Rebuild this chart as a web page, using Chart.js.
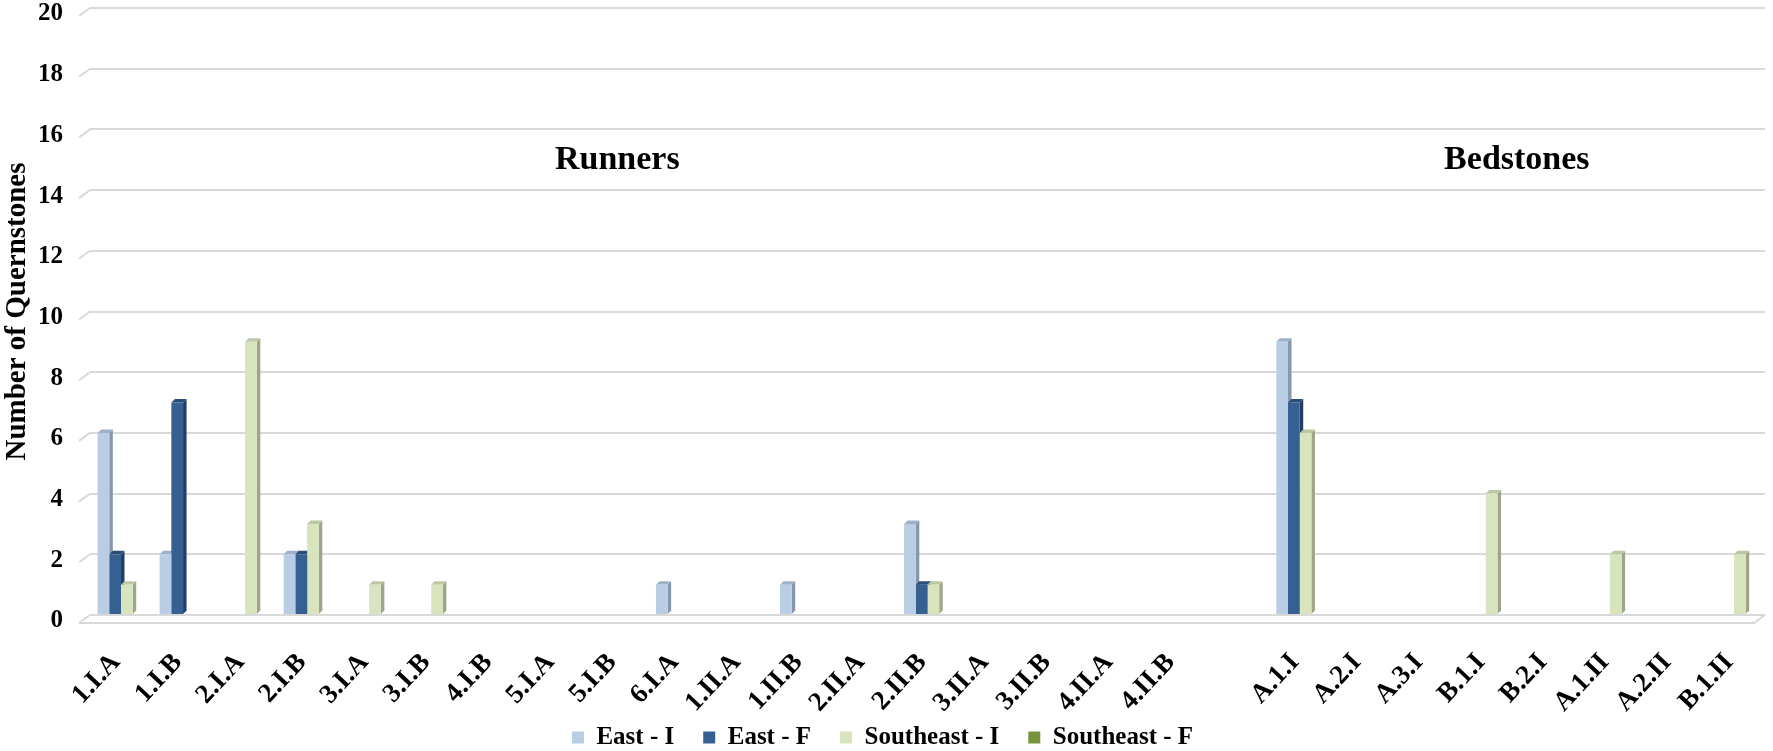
<!DOCTYPE html>
<html>
<head>
<meta charset="utf-8">
<title>Quernstones by type</title>
<script src="https://cdn.jsdelivr.net/npm/chart.js@4.4.1/dist/chart.umd.min.js"></script>
<style>
  html, body { margin: 0; padding: 0; background: #ffffff; }
  #wrap { width: 1773px; height: 751px; position: relative; }
</style>
</head>
<body>
<div id="wrap"><canvas id="chart" width="1773" height="751"></canvas></div>
<script>
// Quernstone types (runners, then a spacer, then bedstones)
const categories = [
  '1.I.A', '1.I.B', '2.I.A', '2.I.B', '3.I.A', '3.I.B', '4.I.B', '5.I.A', '5.I.B',
  '6.I.A', '1.II.A', '1.II.B', '2.II.A', '2.II.B', '3.II.A', '3.II.B', '4.II.A', '4.II.B',
  '',
  'A.1.I', 'A.2.I', 'A.3.I', 'B.1.I', 'B.2.I', 'A.1.II', 'A.2.II', 'B.1.II'
];

const seriesNames = ['East - I', 'East - F', 'Southeast - I', 'Southeast - F'];

// Number of quernstones per type
const eastI       = [6, 2, 0, 2, 0, 0, 0, 0, 0, 1, 0, 1, 0, 3, 0, 0, 0, 0, null, 9, 0, 0, 0, 0, 0, 0, 0];
const eastF       = [2, 7, 0, 2, 0, 0, 0, 0, 0, 0, 0, 0, 0, 1, 0, 0, 0, 0, null, 7, 0, 0, 0, 0, 0, 0, 0];
const southeastI  = [1, 0, 9, 3, 1, 1, 0, 0, 0, 0, 0, 0, 0, 1, 0, 0, 0, 0, null, 6, 0, 0, 4, 0, 2, 0, 2];
const southeastF  = [0, 0, 0, 0, 0, 0, 0, 0, 0, 0, 0, 0, 0, 0, 0, 0, 0, 0, null, 0, 0, 0, 0, 0, 0, 0, 0];

const yTicks = [0, 2, 4, 6, 8, 10, 12, 14, 16, 18, 20];

const groupTitles = ['Runners', 'Bedstones'];

const SERIF = '"Liberation Serif", "Times New Roman", "DejaVu Serif", serif';

// Face colours for each series: front, right side, top
const palette = [
  { front: '#b9cde5', side: '#8596ad', top: '#9fb1c8' },
  { front: '#376092', side: '#223f63', top: '#2b4e78' },
  { front: '#d7e4bd', side: '#9ea58a', top: '#bcc7a3' },
  { front: '#77933c', side: '#55692b', top: '#667f33' }
];

const seriesData = [eastI, eastF, southeastI, southeastF];

// Side and top faces give the columns their shallow 3-D look.
// They are painted before the columns so neighbouring fronts cover them.
const columnDepth = {
  id: 'columnDepth',
  beforeDatasetsDraw(chart, args, opts) {
    const ctx = chart.ctx;
    const dx = opts.dx, dy = opts.dy;
    ctx.save();
    chart.data.datasets.forEach((ds, di) => {
      const meta = chart.getDatasetMeta(di);
      if (meta.hidden) return;
      meta.data.forEach((bar, i) => {
        const v = ds.data[i];
        if (!v) return;
        const p = bar.getProps(['x', 'y', 'base', 'width'], true);
        const l = p.x - p.width / 2, r = p.x + p.width / 2;
        ctx.fillStyle = ds.sideColor;
        ctx.beginPath();
        ctx.moveTo(r, p.y);
        ctx.lineTo(r + dx, p.y - dy);
        ctx.lineTo(r + dx, p.base - dy);
        ctx.lineTo(r, p.base);
        ctx.closePath();
        ctx.fill();
        ctx.fillStyle = ds.topColor;
        ctx.beginPath();
        ctx.moveTo(l, p.y);
        ctx.lineTo(l + dx, p.y - dy);
        ctx.lineTo(r + dx, p.y - dy);
        ctx.lineTo(r, p.y);
        ctx.closePath();
        ctx.fill();
      });
    });
    ctx.restore();
  }
};

// Side wall stubs on the gridlines and the front edge of the floor
const wallAndFloor = {
  id: 'wallAndFloor',
  beforeDatasetsDraw(chart, args, opts) {
    const { ctx, chartArea: a } = chart;
    const y = chart.scales.y;
    ctx.save();
    ctx.strokeStyle = opts.color;
    ctx.lineWidth = opts.lineWidth;
    y.ticks.forEach(t => {
      const py = y.getPixelForValue(t.value);
      ctx.beginPath();
      ctx.moveTo(a.left - opts.dx, py + opts.dy);
      ctx.lineTo(a.left, py);
      ctx.stroke();
    });
    const p0 = y.getPixelForValue(0);
    ctx.beginPath();
    ctx.moveTo(a.left - opts.dx, p0 + opts.dy);
    ctx.lineTo(a.right - opts.dx, p0 + opts.dy);
    ctx.lineTo(a.right, p0);
    ctx.stroke();
    ctx.restore();
  }
};

// Section titles above the runner and bedstone groups
const sectionTitles = {
  id: 'sectionTitles',
  afterDatasetsDraw(chart, args, opts) {
    const { ctx } = chart;
    const xs = chart.scales.x, ys = chart.scales.y;
    ctx.save();
    ctx.font = `bold ${opts.size}px ${SERIF}`;
    ctx.fillStyle = '#000';
    ctx.textAlign = 'center';
    ctx.textBaseline = 'middle';
    opts.items.forEach(it => {
      ctx.fillText(it.text, xs.getPixelForValue(it.at), ys.getPixelForValue(it.level));
    });
    ctx.restore();
  }
};

Chart.defaults.font.family = SERIF;
Chart.defaults.color = '#000';

new Chart(document.getElementById('chart'), {
  type: 'bar',
  data: {
    labels: categories,
    datasets: seriesNames.map((name, i) => ({
      label: name,
      data: seriesData[i],
      backgroundColor: palette[i].front,
      sideColor: palette[i].side,
      topColor: palette[i].top,
      borderWidth: 0,
      categoryPercentage: 0.755,
      barPercentage: 1.0
    }))
  },
  options: {
    responsive: false,
    animation: false,
    layout: { padding: { top: 0, right: 8, bottom: 0, left: 0 } },
    scales: {
      x: {
        grid: { display: false },
        border: { display: false },
        ticks: {
          autoSkip: false,
          minRotation: 47,
          maxRotation: 47,
          padding: 24,
          labelOffset: -5,
          font: { size: 27, weight: 'bold', family: SERIF },
          color: '#000'
        },
        afterFit(s) {
          s.height = 106;
          s.paddingLeft = 0;
          s.paddingRight = 0;
        }
      },
      y: {
        min: 0,
        max: 20,
        afterBuildTicks(s) { s.ticks = yTicks.map(v => ({ value: v })); },
        grid: { color: '#d9d9d9', lineWidth: 2, drawTicks: false },
        border: { display: false },
        ticks: {
          padding: 27,
          labelOffset: 6,
          font: { size: 25, weight: 'bold', family: SERIF },
          color: '#000'
        },
        title: {
          display: true,
          text: 'Number of Quernstones',
          font: { size: 29, weight: 'bold', family: SERIF },
          color: '#000',
          padding: { top: 0, bottom: 0 }
        },
        afterFit(s) {
          s.width = 90;
          s.paddingTop = 8;
          s.paddingBottom = 0;
        }
      }
    },
    plugins: {
      legend: {
        position: 'bottom',
        maxHeight: 30,
        labels: {
          boxWidth: 12,
          boxHeight: 12,
          padding: 4,
          font: { size: 25, weight: 'bold', family: SERIF },
          color: '#000',
          sort: (a, b) => a.datasetIndex - b.datasetIndex,
          generateLabels(chart) {
            // em-space after each name but the last keeps the entries well apart
            const items = Chart.defaults.plugins.legend.labels.generateLabels(chart);
            return items.map((item, i) =>
              i < items.length - 1 ? Object.assign(item, { text: item.text + '\u2003' }) : item);
          }
        }
      },
      tooltip: { enabled: false },
      columnDepth: { dx: 3.5, dy: 3.5 },
      wallAndFloor: { color: '#d9d9d9', lineWidth: 2, dx: 11, dy: 8 },
      sectionTitles: {
        size: 34,
        items: [
          { text: groupTitles[0], at: 8, level: 15 },
          { text: groupTitles[1], at: 22.5, level: 15 }
        ]
      }
    }
  },
  plugins: [columnDepth, wallAndFloor, sectionTitles]
});
</script>
</body>
</html>
